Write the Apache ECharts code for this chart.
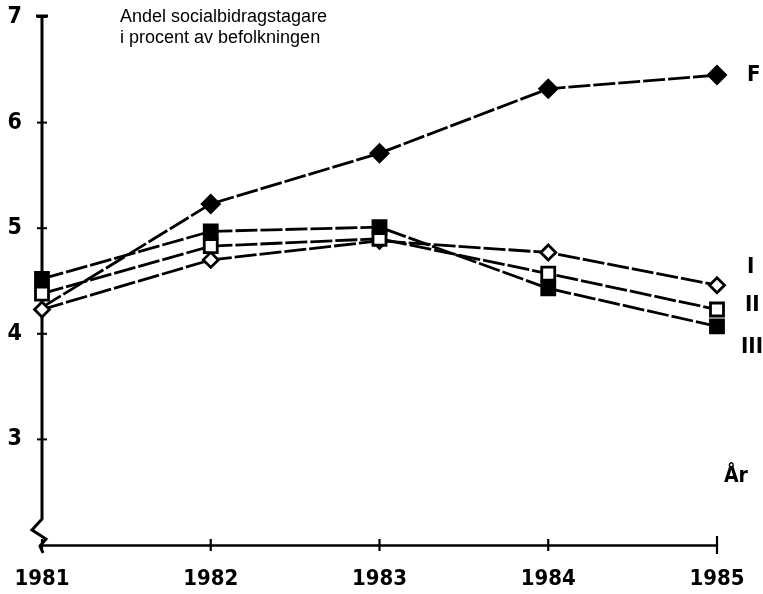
<!DOCTYPE html>
<html>
<head>
<meta charset="utf-8">
<script src="https://cdn.jsdelivr.net/npm/echarts@6/dist/echarts.min.js"></script>
<style>html,body{margin:0;padding:0;background:#fff}#c{width:763px;height:594px}</style>
</head>
<body>
<div id="c"></div>
<script>
var years = ['1981', '1982', '1983', '1984', '1985'];
var seriesF = [4.25, 5.23, 5.71, 6.32, 6.45];
var seriesI = [4.23, 4.70, 4.88, 4.77, 4.46];
var seriesII = [4.38, 4.83, 4.90, 4.57, 4.23];
var seriesIII = [4.52, 4.97, 5.01, 4.43, 4.07];
var yTicks = [3, 4, 5, 6, 7];
var titleText = 'Andel socialbidragstagare\ni procent av befolkningen';

var chart = echarts.init(document.getElementById('c'));
var font = '"Liberation Sans", Arial, sans-serif';
var narrow = '"DejaVu Sans Condensed", "Liberation Sans", sans-serif';
var lineStyle = {color: '#000', width: 2.8, type: [22, 3]};

function mk(name, data, symbol, fill, size, labelOffset, labelText) {
  return {
    name: name, type: 'line', data: data, symbol: symbol, symbolSize: size,
    showAllSymbol: true,
    lineStyle: lineStyle,
    itemStyle: {color: fill, borderColor: '#000', borderWidth: 2.8},
    endLabel: {show: true, formatter: labelText, color: '#000', fontFamily: narrow,
      fontWeight: 'bold', fontSize: 22, offset: labelOffset, distance: 30},
    z: 3
  };
}

var option = {
  animation: false,
  backgroundColor: '#fff',
  grid: {left: 42, right: 46, top: 17, bottom: 49},
  xAxis: {
    type: 'category', data: years, boundaryGap: false,
    axisLine: {lineStyle: {color: '#000', width: 2.5}},
    axisTick: {show: false},
    axisLabel: {color: '#000', fontFamily: narrow, fontWeight: 'bold', fontSize: 22, margin: 23,
      align: 'center'}
  },
  yAxis: [{
    type: 'value', min: 2, max: 7, interval: 1,
    axisLine: {show: false},
    axisTick: {show: false},
    splitLine: {show: false},
    axisLabel: {color: '#000', fontFamily: narrow, fontWeight: 'bold', fontSize: 23, margin: 20,
      formatter: function (v) { return yTicks.indexOf(v) >= 0 ? String(v) : ''; }}
  }],
  series: [
    mk('F', seriesF, 'diamond', '#000', 17, [0, 0], 'F'),
    mk('I', seriesI, 'diamond', '#fff', 15, [0, -18], 'I'),
    mk('II', seriesII, 'rect', '#fff', 13, [-2, -4], 'II'),
    mk('III', seriesIII, 'rect', '#000', 13, [-6, 21], 'III')
  ]
};
option.series[0].data = seriesF.map(function (v, i) {
  return i === 0 ? {value: v, symbolSize: 0} : v;
});
chart.setOption(option);

var x0 = chart.convertToPixel({xAxisIndex: 0}, years[0]);
var yTop = chart.convertToPixel({yAxisIndex: 0}, 7);
var yBot = chart.convertToPixel({yAxisIndex: 0}, 2);
var g = [];
g.push({type: 'polyline', z: 1, shape: {points: [[x0, yTop - 2], [x0, yBot - 26], [x0 - 10, yBot - 15], [x0 + 4, yBot - 6], [x0 - 2, yBot + 1], [x0 + 1, yBot + 8]]},
  style: {stroke: '#000', lineWidth: 3, fill: null}});
g.push({type: 'line', shape: {x1: x0 - 6, y1: yTop - 1, x2: x0 + 6, y2: yTop - 1}, style: {stroke: '#000', lineWidth: 3}});
yTicks.forEach(function (v) {
  var y = chart.convertToPixel({yAxisIndex: 0}, v);
  g.push({type: 'line', shape: {x1: x0 - 5, y1: y, x2: x0 + 5, y2: y}, style: {stroke: '#000', lineWidth: 2}});
});
years.forEach(function (yr, i) {
  var x = chart.convertToPixel({xAxisIndex: 0}, yr);
  var h = i === years.length - 1 ? 9 : 6;
  g.push({type: 'line', shape: {x1: x, y1: yBot - h, x2: x, y2: yBot + h}, style: {stroke: '#000', lineWidth: 2.2}});
});
g.push({type: 'text', left: 120, top: 7, style: {text: titleText, font: '18px ' + font, fill: '#000', lineHeight: 21}});
g.push({type: 'text', left: 724, top: 466, style: {text: 'År', font: 'bold 21px ' + narrow, fill: '#000'}});
chart.setOption({graphic: g});
</script>
</body>
</html>
